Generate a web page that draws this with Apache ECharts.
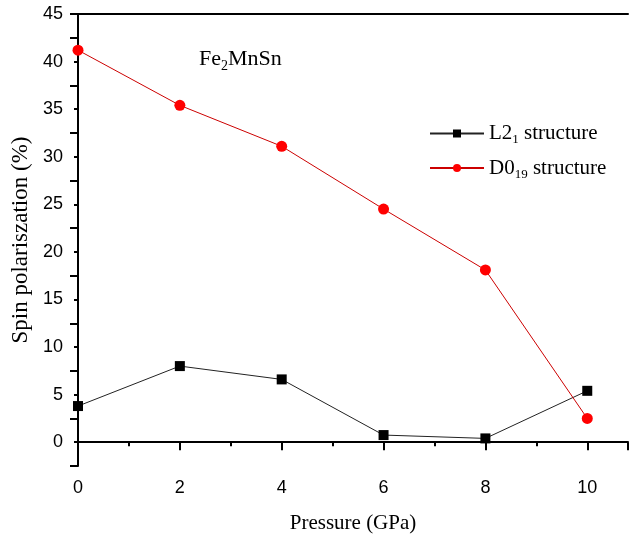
<!DOCTYPE html>
<html><head><meta charset="utf-8">
<script src="https://cdn.jsdelivr.net/npm/echarts@6/dist/echarts.min.js"></script>
<style>html,body{margin:0;padding:0;background:#fff}#c{width:629px;height:537px}</style>
</head><body><div id="c"></div>
<script>
const pressure = [0, 2, 4, 6, 8, 10];
const l21 = [3.8, 8.0, 6.6, 0.75, 0.4, 5.4];
const d019 = [41.2, 35.4, 31.1, 24.5, 18.1, 2.5];
const xTicks = [0, 2, 4, 6, 8, 10];
const yTicks = [0, 5, 10, 15, 20, 25, 30, 35, 40, 45];

const chart = echarts.init(document.getElementById('c'));
const serif = '"Liberation Serif","Times New Roman",serif';
const sans = '"Liberation Sans",Arial,sans-serif';
const axisLine = {show: true, lineStyle: {color: '#000', width: 2}};
chart.setOption({
  animation: false,
  title: {
    text: '{a|Fe}{s|2}{a|MnSn}', left: 194, top: 41,
    textStyle: {fontWeight: 'normal', rich: {
      a: {fontFamily: serif, fontSize: 22, fontWeight: 'normal', color: '#000'},
      s: {fontFamily: serif, fontSize: 14, fontWeight: 'normal', color: '#000', padding: [13, 0, 0, 0]}}}
  },
  legend: {
    orient: 'vertical', left: 424, top: 118, itemWidth: 54, itemHeight: 10, itemGap: 11,
    data: ['L21', 'D019'],
    formatter: function (n) {
      return n === 'L21' ? '{a|L2}{s|1}{a| structure}' : '{a|D0}{s|19}{a| structure}';
    },
    textStyle: {rich: {
      a: {fontFamily: serif, fontSize: 21, color: '#000'},
      s: {fontFamily: serif, fontSize: 13, color: '#000', padding: [13, 0, 0, 0]}}}
  },
  grid: {left: 78, right: 1, top: 14, bottom: 71, containLabel: false, outerBoundsMode: 'none'},
  xAxis: [
    {type: 'value', min: 0, max: 10.8, interval: 2, position: 'bottom', axisLine: axisLine,
     axisTick: {show: true, length: 8, lineStyle: {color: '#000', width: 2}},
     axisLabel: {fontFamily: sans, fontSize: 18, color: '#000', margin: 13,
       formatter: v => xTicks.includes(v) ? String(v) : ''},
     splitLine: {show: false},
     name: 'Pressure (GPa)', nameLocation: 'middle', nameGap: 47,
     nameTextStyle: {fontFamily: serif, fontSize: 21, color: '#000'}},
    {type: 'value', min: 0, max: 10.8, interval: 1, position: 'bottom', axisLine: {show: false},
     axisTick: {show: true, length: 4, lineStyle: {color: '#000', width: 2}},
     axisLabel: {show: false}, splitLine: {show: false}},
    {type: 'value', min: 0, max: 10.8, interval: 1, position: 'top', axisLine: axisLine,
     axisTick: {show: false}, axisLabel: {show: false}, splitLine: {show: false}}
  ],
  yAxis: [
    {type: 'value', min: -2.5, max: 45, interval: 2.5, position: 'left', axisLine: axisLine,
     axisTick: {show: true, length: 4, lineStyle: {color: '#000', width: 2}},
     axisLabel: {fontFamily: sans, fontSize: 18, color: '#000', margin: 15,
       formatter: v => yTicks.includes(v) ? String(v) : ''},
     splitLine: {show: false},
     name: 'Spin polariszation (%)', nameLocation: 'middle', nameGap: 42,
     nameTextStyle: {fontFamily: serif, fontSize: 23, color: '#000'}},
    {type: 'value', min: -2.5, max: 45, interval: 5, position: 'left', axisLine: {show: false},
     axisTick: {show: true, length: 8, lineStyle: {color: '#000', width: 2}},
     axisLabel: {show: false}, splitLine: {show: false}}
  ],
  series: [
    {name: 'L21', type: 'line', data: pressure.map((p, i) => [p, l21[i]]),
     symbol: 'rect', symbolSize: 10, lineStyle: {color: '#222', width: 1},
     itemStyle: {color: '#000'}},
    {name: 'D019', type: 'line', data: pressure.map((p, i) => [p, d019[i]]),
     symbol: 'circle', symbolSize: 11, lineStyle: {color: '#c00', width: 1},
     itemStyle: {color: '#f00'}}
  ]
});
</script></body></html>
